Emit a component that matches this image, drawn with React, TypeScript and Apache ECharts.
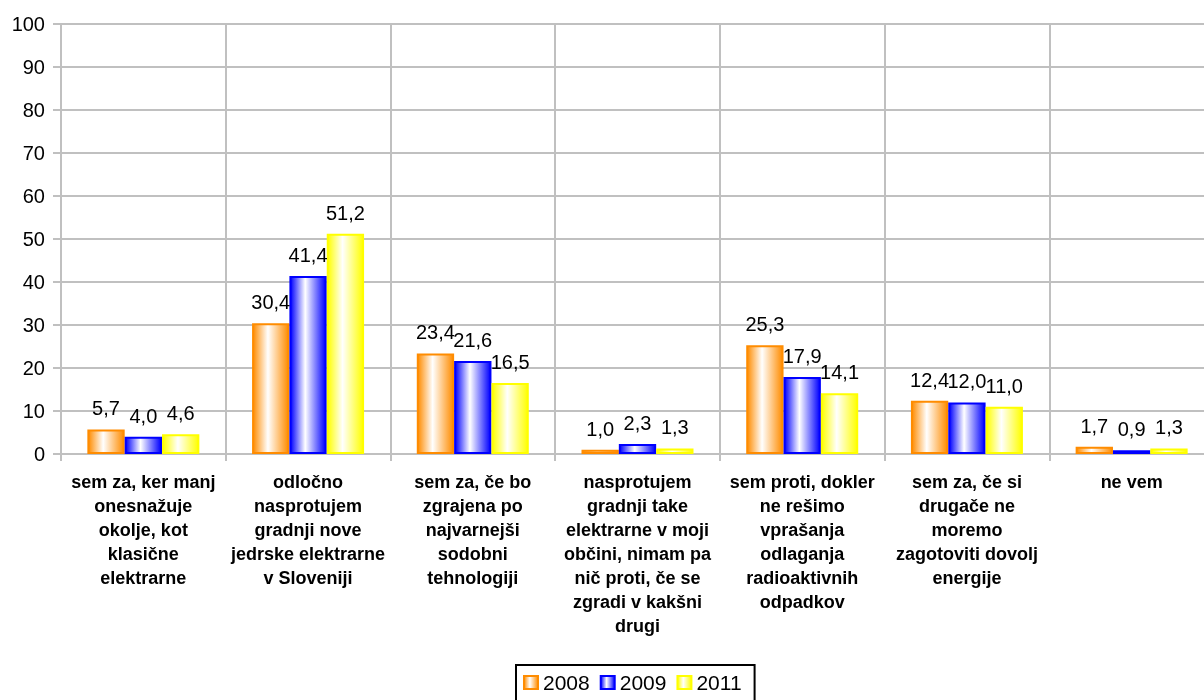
import React, { useEffect, useRef } from "react";
import * as echarts from "echarts";

const categories = [
  "sem za, ker manj\nonesnažuje\nokolje, kot\nklasične\nelektrarne",
  "odločno\nnasprotujem\ngradnji nove\njedrske elektrarne\nv Sloveniji",
  "sem za, če bo\nzgrajena po\nnajvarnejši\nsodobni\ntehnologiji",
  "nasprotujem\ngradnji take\nelektrarne v moji\nobčini, nimam pa\nnič proti, če se\nzgradi v kakšni\ndrugi",
  "sem proti, dokler\nne rešimo\nvprašanja\nodlaganja\nradioaktivnih\nodpadkov",
  "sem za, če si\ndrugače ne\nmoremo\nzagotoviti dovolj\nenergije",
  "ne vem",
];
const seriesNames = ["2008", "2009", "2011"];
const values2008 = [5.7, 30.4, 23.4, 1.0, 25.3, 12.4, 1.7];
const values2009 = [4.0, 41.4, 21.6, 2.3, 17.9, 12.0, 0.9];
const values2011 = [4.6, 51.2, 16.5, 1.3, 14.1, 11.0, 1.3];
const colors = ["#ff8c00", "#0000ff", "#ffff00"];

const FONT = "Liberation Sans, Arial, sans-serif";

function grad(c: string) {
  return new echarts.graphic.LinearGradient(0, 0, 1, 0, [
    { offset: 0, color: c },
    { offset: 0.42, color: "#ffffff" },
    { offset: 1, color: c },
  ]);
}

export default function App() {
  const ref = useRef<HTMLDivElement>(null);
  useEffect(() => {
    const chart = echarts.init(ref.current!, null, { renderer: "svg" });
    const data = [values2008, values2009, values2011];
    chart.setOption({
      animation: false,
      textStyle: { fontFamily: FONT },
      grid: { left: 61, top: 24, height: 430, width: 1153, containLabel: false },
      legend: {
        top: 665,
        left: 516,
        icon: "rect",
        itemWidth: 14,
        itemHeight: 13,
        itemGap: 10,
        borderColor: "#000",
        borderWidth: 2,
        borderRadius: 0,
        padding: [7, 13, 8, 7],
        textStyle: { fontSize: 21, color: "#000", fontFamily: FONT },
        data: seriesNames.map((n, i) => ({ name: n, itemStyle: { color: grad(colors[i]), borderColor: colors[i], borderWidth: 2 } })),
      },
      xAxis: {
        type: "category",
        data: categories,
        axisLine: { lineStyle: { color: "#c0c0c0", width: 2 } },
        axisTick: { show: true, length: 7, lineStyle: { color: "#c0c0c0", width: 2 } },
        splitLine: { show: true, lineStyle: { color: "#c0c0c0", width: 2 } },
        axisLabel: {
          interval: 0,
          color: "#000",
          fontSize: 18,
          fontWeight: "bold",
          lineHeight: 24,
          margin: 16,
          fontFamily: FONT,
          align: "center",
        },
      },
      yAxis: {
        type: "value",
        min: 0,
        max: 100,
        interval: 10,
        axisLine: { show: true, lineStyle: { color: "#c0c0c0", width: 2 } },
        axisTick: { show: true, length: 8, lineStyle: { color: "#c0c0c0", width: 2 } },
        splitLine: { show: true, lineStyle: { color: "#c0c0c0", width: 2 } },
        axisLabel: { color: "#000", fontSize: 20, margin: 16, fontFamily: FONT },
      },
      series: seriesNames.map((n, i) => ({
        name: n,
        type: "bar",
        data: data[i],
        barGap: "0%",
        barCategoryGap: "32%",
        itemStyle: { color: grad(colors[i]), borderColor: colors[i], borderWidth: 2 },
        label: {
          show: true,
          position: "top",
          distance: 11,
          color: "#000",
          fontSize: 20,
          fontFamily: FONT,
          formatter: (p: any) => p.value.toFixed(1).replace(".", ","),
        },
      })),
    });
    return () => chart.dispose();
  }, []);
  return (
    <div style={{ position: "fixed", left: 0, top: 0, width: 1204, height: 700, overflow: "hidden" }}>
      <div ref={ref} style={{ width: 1230, height: 700 }} />
    </div>
  );
}
